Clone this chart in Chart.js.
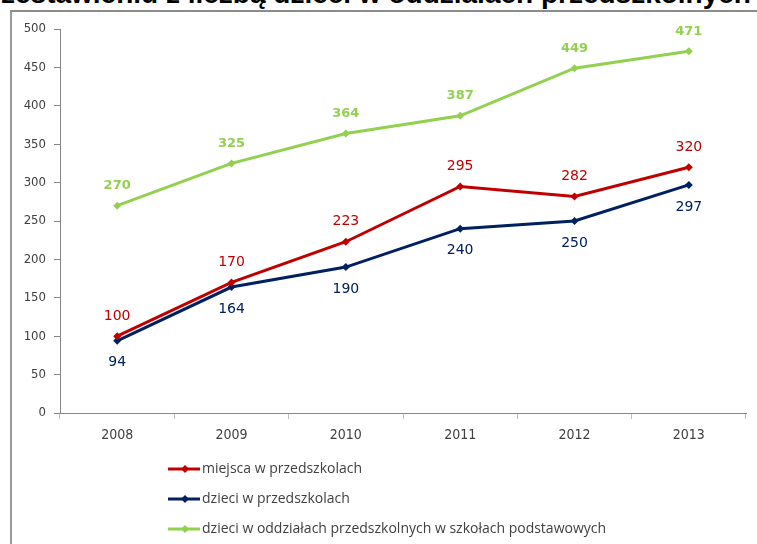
<!DOCTYPE html>
<html>
<head>
<meta charset="utf-8">
<script src="https://cdn.jsdelivr.net/npm/chart.js@4"></script>
<style>
  html, body { margin: 0; padding: 0; background: #fff; overflow: hidden; }
  #wrap { position: relative; width: 757px; height: 544px; }
  #title {
    position: absolute; left: 1px; top: -20px; white-space: nowrap;
    font: bold 28px/28px "Liberation Sans", Arial, sans-serif; color: #000;
  }
  #frame {
    position: absolute; left: 10px; top: 10px; width: 760px; height: 560px;
    border-left: 2px solid #9a9a9a; border-top: 2px solid #8c8c8c;
  }
  #myChart { position: absolute; left: 0; top: 0; }
</style>
</head>
<body>
<div id="wrap">
  <div id="title">zestawieniu z liczbą dzieci w oddziałach przedszkolnych</div>
  <div id="frame"></div>
  <canvas id="myChart" width="757" height="544"></canvas>
</div>
<script>
const years = ['2008', '2009', '2010', '2011', '2012', '2013'];
const miejsca = [100, 170, 223, 295, 282, 320];
const dzieci = [94, 164, 190, 240, 250, 297];
const oddzialy = [270, 325, 364, 387, 449, 471];
const yTicks = [0, 50, 100, 150, 200, 250, 300, 350, 400, 450, 500];

const labelsPlugin = {
  id: 'pointLabels',
  afterDatasetsDraw(chart) {
    const ctx = chart.ctx;
    chart.data.datasets.forEach((ds, i) => {
      const meta = chart.getDatasetMeta(i);
      ctx.save();
      ctx.fillStyle = ds.borderColor;
      ctx.font = ds.labelFont;
      ctx.textAlign = 'center';
      ctx.textBaseline = 'middle';
      meta.data.forEach((pt, j) => {
        ctx.fillText(String(ds.data[j]), pt.x, pt.y + ds.labelOffset);
      });
      ctx.restore();
    });
  }
};

const legendPlugin = {
  id: 'listLegend',
  afterDraw(chart) {
    const ctx = chart.ctx;
    chart.data.datasets.forEach((ds, i) => {
      const y = 469 + i * 30;
      ctx.save();
      ctx.strokeStyle = ds.borderColor;
      ctx.lineWidth = 3;
      ctx.beginPath();
      ctx.moveTo(168, y);
      ctx.lineTo(200, y);
      ctx.stroke();
      ctx.fillStyle = ds.borderColor;
      ctx.beginPath();
      ctx.moveTo(185, y - 4);
      ctx.lineTo(189, y);
      ctx.lineTo(185, y + 4);
      ctx.lineTo(181, y);
      ctx.closePath();
      ctx.fill();
      ctx.fillStyle = '#404040';
      ctx.font = '14px "Open Sans", sans-serif';
      ctx.textBaseline = 'middle';
      ctx.fillText(ds.label, 202, y);
      ctx.restore();
    });
  }
};

const ctx = document.getElementById('myChart').getContext('2d');
const myChart = new Chart(ctx, {
  type: 'line',
  data: {
    labels: years,
    datasets: [{
      label: 'miejsca w przedszkolach',
      data: miejsca,
      borderColor: '#c00000',
      backgroundColor: '#c00000',
      labelFont: '14px "DejaVu Sans", sans-serif',
      labelOffset: -20
    }, {
      label: 'dzieci w przedszkolach',
      data: dzieci,
      borderColor: '#002060',
      backgroundColor: '#002060',
      labelFont: '14px "DejaVu Sans", sans-serif',
      labelOffset: 22
    }, {
      label: 'dzieci w oddziałach przedszkolnych w szkołach podstawowych',
      data: oddzialy,
      borderColor: '#92d050',
      backgroundColor: '#92d050',
      labelFont: 'bold 13px "DejaVu Sans", sans-serif',
      labelOffset: -20
    }]
  },
  options: {
    responsive: false,
    animation: false,
    elements: {
      line: { borderWidth: 3, tension: 0 },
      point: { pointStyle: 'rectRot', radius: 4, borderWidth: 0 }
    },
    layout: { padding: { top: 29, right: 11, left: 0, bottom: 0 } },
    plugins: {
      legend: { display: false },
      tooltip: { enabled: false }
    },
    scales: {
      x: {
        offset: true,
        grid: { offset: true, drawOnChartArea: false, drawTicks: true, tickLength: 6, color: '#bfbfbf' },
        border: { color: '#868686', width: 1 },
        ticks: { color: '#404040', font: { family: 'DejaVu Sans Condensed', size: 14 }, padding: 8 },
        afterFit(scale) { scale.height = 131; }
      },
      y: {
        min: 0,
        max: 500,
        afterBuildTicks(scale) { scale.ticks = yTicks.map(v => ({ value: v })); },
        grid: { drawOnChartArea: false, drawTicks: true, tickLength: 6, color: '#868686' },
        border: { color: '#868686', width: 1 },
        ticks: { color: '#404040', font: { family: 'DejaVu Sans Condensed', size: 13 }, padding: 8 },
        afterFit(scale) { scale.width = 60; }
      }
    }
  },
  plugins: [labelsPlugin, legendPlugin]
});
</script>
</body>
</html>
